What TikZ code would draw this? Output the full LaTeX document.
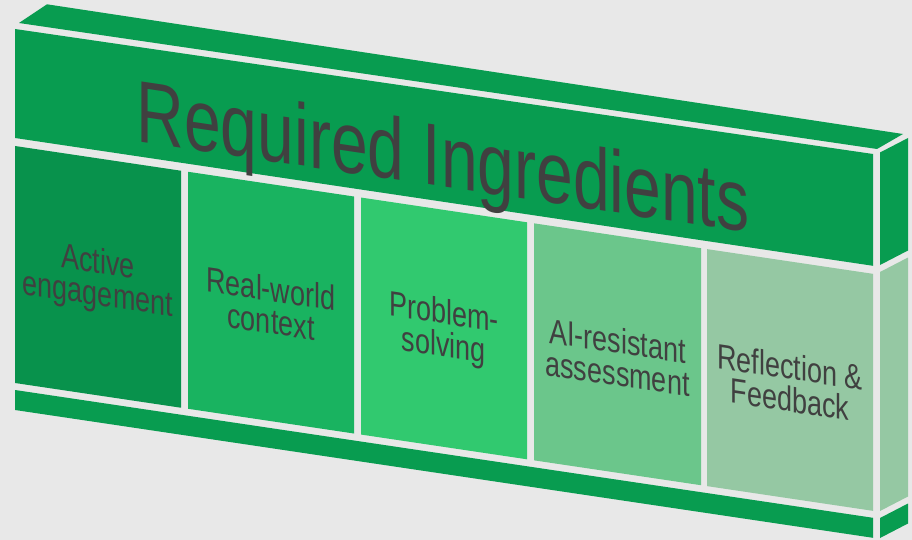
\documentclass[tikz,border=0pt]{standalone}
\usepackage{fontspec}
\setmainfont{Liberation Sans}
\definecolor{bg}{HTML}{E8E8E8}
\definecolor{band}{HTML}{089C50}
\definecolor{colA}{HTML}{08924C}
\definecolor{colB}{HTML}{19B360}
\definecolor{colC}{HTML}{31C96F}
\definecolor{colD}{HTML}{6BC68B}
\definecolor{colE}{HTML}{95C8A3}
\definecolor{ink}{HTML}{404040}
% front column between x=#1 and x=#2, filled with colour #3
\newcommand{\frontcol}[3]{%
  \fill[#3] (#1,{146+0.149*(#1-15)}) -- (#2,{146+0.149*(#2-15)})
    -- (#2,{383+0.149*(#2-15)}) -- (#1,{383+0.149*(#1-15)}) -- cycle;}
\begin{document}
\begin{tikzpicture}[x=1pt,y=-1pt,
  titletext/.style={text=ink, font=\fontsize{66}{70}\selectfont,
    yslant=-0.149, yscale=1.33, inner sep=0pt, anchor=base},
  lbl/.style={text=ink, font=\fontsize{27}{25}\selectfont, align=center,
    yslant=-0.149, yscale=1.3, inner sep=0pt}]
\fill[bg] (0,0) rectangle (912,540);
\useasboundingbox (0,0) rectangle (912,540);
% top face
\fill[band] (19,23) -- (47,4.3) -- (903,134) -- (877,149) -- cycle;
% front header band
\fill[band] (15,29) -- (873,154) -- (873,265.8) -- (15,138) -- cycle;
% right side of header band
\fill[band] (880,152.5) -- (908,138) -- (908,250.5) -- (880,265) -- cycle;
% front columns
\frontcol{15}{181}{colA}
\frontcol{188}{354}{colB}
\frontcol{361}{527}{colC}
\frontcol{534}{701}{colD}
\frontcol{707}{873}{colE}
% right side of column row
\fill[colE] (880,272) -- (908,257.5) -- (908,496.5) -- (880,511) -- cycle;
% base plinth, front and side
\fill[band] (15,390) -- (873,517.8) -- (873,537.8) -- (15,410) -- cycle;
\fill[band] (880,518) -- (908,503.5) -- (908,523.5) -- (880,538) -- cycle;
% texts
\node[titletext] (title) at (443,187) {Required Ingredients};
\node[lbl] (c1) at (98,280) {Active\\engagement};
\node[lbl] (c2) at (271,305) {Real-world\\context};
\node[lbl] (c3) at (444,331) {Problem-\\solving};
\node[lbl] (c4) at (617.5,357) {AI-resistant\\assessment};
\node[lbl] (c5) at (790,383) {Reflection \&\\Feedback};
\end{tikzpicture}
\end{document}
